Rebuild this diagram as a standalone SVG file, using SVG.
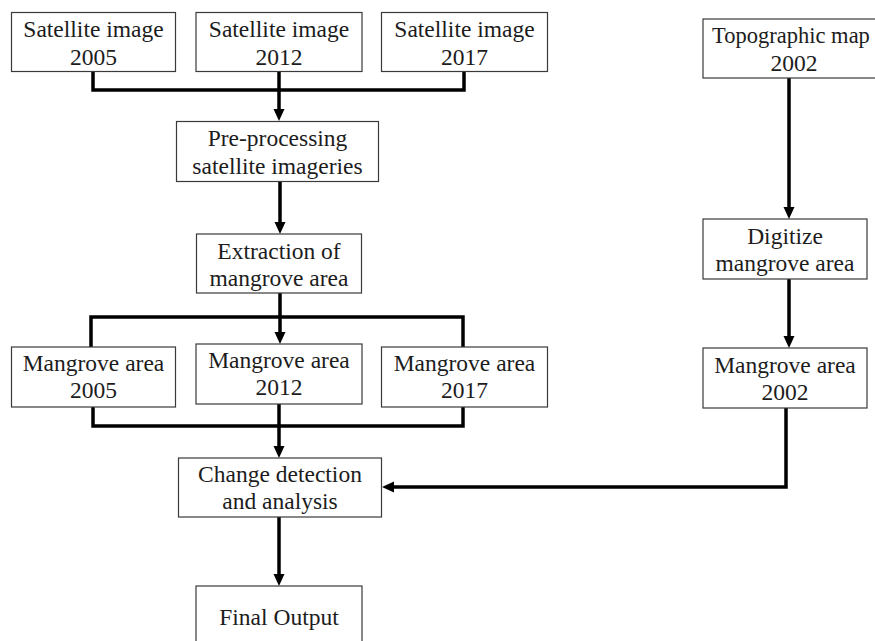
<svg xmlns="http://www.w3.org/2000/svg" width="875" height="641" viewBox="0 0 875 641">
<defs>
<style>
.box{fill:#fff;stroke:#3a3a3a;stroke-width:1.2}
.t{font-family:"Liberation Serif","Times New Roman",serif;font-size:23.5px;fill:#1c1c1c;text-anchor:middle}
.c{fill:none;stroke:#000;stroke-width:3.5;stroke-linejoin:miter}
</style>
<marker id="ah" markerUnits="userSpaceOnUse" markerWidth="12" markerHeight="12" refX="6" refY="6" orient="auto" viewBox="0 0 12 12">
<path d="M0,0.5 L12,6 L0,11.5 z" fill="#000"/>
</marker>
</defs>
<rect width="875" height="641" fill="#fff"/>
<g id="connectors">
<path class="c" d="M93,72 V90 H464 V72"/>
<path class="c" d="M279,72 V115" marker-end="url(#ah)"/>
<path class="c" d="M280,182 V228" marker-end="url(#ah)"/>
<path class="c" d="M91,347 V317 H463 V347"/>
<path class="c" d="M280,293 V338" marker-end="url(#ah)"/>
<path class="c" d="M93,407 V426 H463 V407"/>
<path class="c" d="M279,404 V452" marker-end="url(#ah)"/>
<path class="c" d="M279,517 V580" marker-end="url(#ah)"/>
<path class="c" d="M789,78 V213" marker-end="url(#ah)"/>
<path class="c" d="M789,279 V342" marker-end="url(#ah)"/>
<path class="c" d="M786,408 V487 H388" marker-end="url(#ah)"/>
</g>
<g id="sat2005"><rect class="box" x="11.5" y="12.5" width="164" height="59"/><text class="t" x="93.5" y="37">Satellite image</text><text class="t" x="93.5" y="65">2005</text></g>
<g id="sat2012"><rect class="box" x="196" y="12.5" width="166" height="59"/><text class="t" x="279" y="37">Satellite image</text><text class="t" x="279" y="65">2012</text></g>
<g id="sat2017"><rect class="box" x="381.5" y="12.5" width="166" height="59"/><text class="t" x="464.5" y="37">Satellite image</text><text class="t" x="464.5" y="65">2017</text></g>
<g id="preprocessing"><rect class="box" x="176.5" y="121.5" width="202" height="60"/><text class="t" x="277.5" y="146">Pre-processing</text><text class="t" x="277.5" y="174">satellite imageries</text></g>
<g id="extraction"><rect class="box" x="196.5" y="234" width="165" height="59"/><text class="t" x="279" y="258.5">Extraction of</text><text class="t" x="279" y="286">mangrove area</text></g>
<g id="mangrove2005"><rect class="box" x="11.5" y="347" width="164" height="60"/><text class="t" x="93.5" y="371">Mangrove area</text><text class="t" x="93.5" y="398">2005</text></g>
<g id="mangrove2012"><rect class="box" x="196" y="344" width="166" height="60"/><text class="t" x="279" y="367.5">Mangrove area</text><text class="t" x="279" y="395">2012</text></g>
<g id="mangrove2017"><rect class="box" x="381.5" y="347" width="166" height="60"/><text class="t" x="464.5" y="371">Mangrove area</text><text class="t" x="464.5" y="398">2017</text></g>
<g id="change"><rect class="box" x="178.5" y="458" width="203" height="59"/><text class="t" x="280" y="482">Change detection</text><text class="t" x="280" y="509">and analysis</text></g>
<g id="final"><rect class="box" x="196" y="586" width="166" height="70"/><text class="t" x="279" y="625">Final Output</text></g>
<g id="topo"><rect class="box" x="703" y="19" width="182" height="59"/><text class="t" x="791" y="43" style="font-size:22.5px">Topographic map</text><text class="t" x="794" y="71">2002</text></g>
<g id="digitize"><rect class="box" x="703" y="219" width="164" height="60"/><text class="t" x="785" y="244">Digitize</text><text class="t" x="785" y="271">mangrove area</text></g>
<g id="mangrove2002"><rect class="box" x="703" y="348" width="164" height="60"/><text class="t" x="785" y="373">Mangrove area</text><text class="t" x="785" y="400">2002</text></g>
</svg>
